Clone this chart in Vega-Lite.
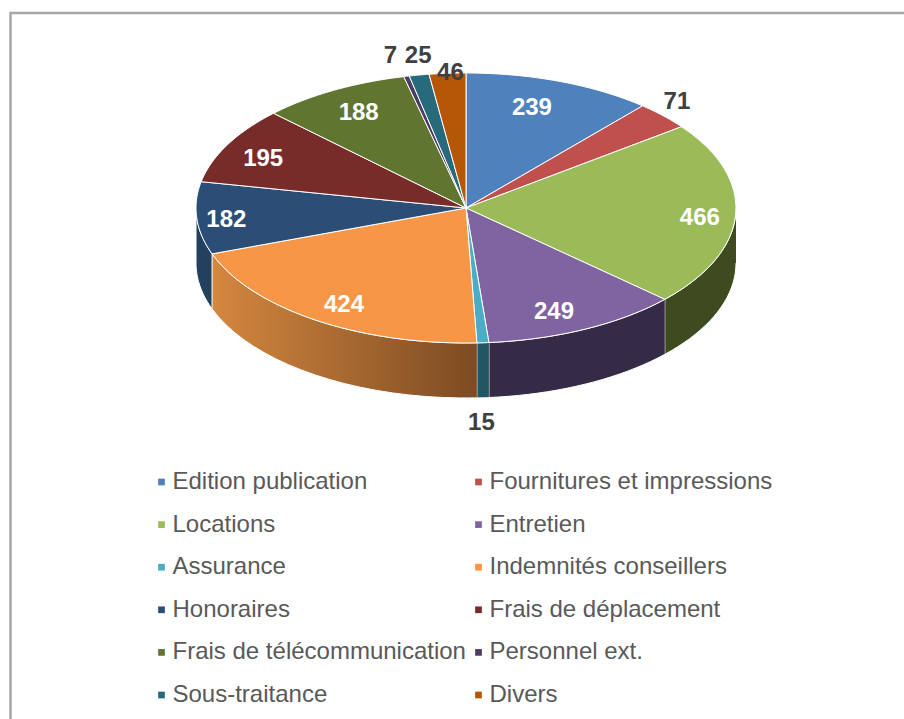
{"$schema":"https://vega.github.io/schema/vega-lite/v6.json","width":899,"height":711,"autosize":"none","padding":{"left":10.5,"top":13,"right":-5.5,"bottom":-5},"background":"#ffffff","view":{"stroke":"#a6a6a6","strokeWidth":2.5,"fill":"#ffffff"},"data":{"values":[{"rang":1,"poste":"Edition publication","valeur":239},{"rang":2,"poste":"Fournitures et impressions","valeur":71},{"rang":3,"poste":"Locations","valeur":466},{"rang":4,"poste":"Entretien","valeur":249},{"rang":5,"poste":"Assurance","valeur":15},{"rang":6,"poste":"Indemnités conseillers","valeur":424},{"rang":7,"poste":"Honoraires","valeur":182},{"rang":8,"poste":"Frais de déplacement","valeur":195},{"rang":9,"poste":"Frais de télécommunication","valeur":188},{"rang":10,"poste":"Personnel ext.","valeur":7},{"rang":11,"poste":"Sous-traitance","valeur":25},{"rang":12,"poste":"Divers","valeur":46}]},"transform":[{"joinaggregate":[{"op":"sum","field":"valeur","as":"total"}]},{"window":[{"op":"sum","field":"valeur","as":"cum"}],"sort":[{"field":"rang","order":"ascending"}]},{"calculate":"2*PI*(datum.cum-datum.valeur)/datum.total","as":"a0"},{"calculate":"2*PI*datum.cum/datum.total","as":"a1"}],"layer":[{"transform":[{"filter":"datum.a1>PI/2 && datum.a0<3*PI/2 && datum.rang!=6"},{"calculate":"[0,1,2,3,4,5,6,7,8,9,10,11,12,13,14,15,16,17,18,19,20,21,22,23,24,25,26,27,28,29,30,31,32,33,34,35,36,37,38,39,40,41]","as":"i"},{"flatten":["i"]},{"calculate":"max(datum.a0,PI/2)+(min(datum.a1,3*PI/2)-max(datum.a0,PI/2))*(datum.i<=20?datum.i/20:(41-datum.i)/20)","as":"ang"},{"calculate":"sin(datum.ang)","as":"x"},{"calculate":"cos(datum.ang)-(datum.i<=20?0:0.4074)","as":"y"}],"mark":{"type":"line","stroke":"#ffffff","strokeWidth":1,"interpolate":"linear"},"encoding":{"x":{"field":"x","type":"quantitative","axis":null,"scale":{"domain":[-1.68704,1.64259],"nice":false,"zero":false}},"y":{"field":"y","type":"quantitative","axis":null,"scale":{"domain":[-3.82222,1.44444],"nice":false,"zero":false}},"order":{"field":"i","type":"quantitative"},"detail":{"field":"poste"},"fill":{"field":"poste","type":"nominal","legend":null,"scale":{"domain":["Locations","Entretien","Assurance","Honoraires"],"range":["#3e4a20","#362b47","#235663","#24405f"]}}}},{"transform":[{"filter":"datum.rang==6"},{"calculate":"[0,1,2,3,4,5,6,7,8,9,10,11,12,13,14,15,16,17,18,19,20,21,22,23,24,25,26,27,28,29,30,31,32,33,34,35,36,37,38,39,40,41]","as":"i"},{"flatten":["i"]},{"calculate":"datum.a0+(datum.a1-datum.a0)*(datum.i<=20?datum.i/20:(41-datum.i)/20)","as":"ang"},{"calculate":"sin(datum.ang)","as":"x"},{"calculate":"cos(datum.ang)-(datum.i<=20?0:0.4074)","as":"y"}],"mark":{"type":"line","stroke":"#ffffff","strokeWidth":1,"fill":{"gradient":"linear","x1":0,"y1":0,"x2":1,"y2":0,"stops":[{"offset":0,"color":"#d4873f"},{"offset":1,"color":"#7c4b22"}]}},"encoding":{"x":{"field":"x","type":"quantitative","axis":null},"y":{"field":"y","type":"quantitative","axis":null},"order":{"field":"i","type":"quantitative"}}},{"transform":[{"calculate":"[0,1,2,3,4,5,6,7,8,9,10,11,12,13,14,15,16,17,18,19,20,21,22,23,24,25,26]","as":"i"},{"flatten":["i"]},{"calculate":"datum.a0+(datum.a1-datum.a0)*(datum.i-1)/24","as":"ang"},{"calculate":"(datum.i==0||datum.i==26)?0:sin(datum.ang)","as":"x"},{"calculate":"(datum.i==0||datum.i==26)?0:cos(datum.ang)","as":"y"}],"mark":{"type":"line","stroke":"#ffffff","strokeWidth":1},"encoding":{"x":{"field":"x","type":"quantitative","axis":null},"y":{"field":"y","type":"quantitative","axis":null},"order":{"field":"i","type":"quantitative"},"detail":{"field":"poste"},"fill":{"field":"poste","type":"nominal","scale":{"domain":["Edition publication","Fournitures et impressions","Locations","Entretien","Assurance","Indemnités conseillers","Honoraires","Frais de déplacement","Frais de télécommunication","Personnel ext.","Sous-traitance","Divers"],"range":["#4f81bd","#c0504d","#9bbb59","#8064a2","#4bacc6","#f79646","#2c4d75","#772c2a","#5f7530","#4d3b62","#276a7c","#b65708"]},"legend":{"title":null,"orient":"none","legendX":139,"legendY":457,"direction":"horizontal","columns":2,"columnPadding":0,"rowPadding":18.6,"symbolType":"square","symbolSize":45,"symbolStrokeWidth":0,"labelFont":"Liberation Sans","labelFontSize":24,"labelColor":"#595959","labelLimit":400,"labelOffset":-1,"labelBaseline":"middle"}}}},{"transform":[{"calculate":"[[0.70,0.80],[1.07,1.16],[0.867,1.42],[0.74,0.85],[0.91,1.59],[0.81,0.86],[0.89,1.05],[0.85,0.79],[0.81,0.82],[1.27,1.16],[1.02,1.15],[0.84,1.01]][datum.rang-1]","as":"k"},{"calculate":"(datum.a0+datum.a1)/2","as":"mid"},{"calculate":"sin(datum.mid)*datum.k[0]","as":"lx"},{"calculate":"cos(datum.mid)*datum.k[1]","as":"ly"}],"mark":{"type":"text","font":"Liberation Sans","fontWeight":"bold","fontSize":24,"align":"center","baseline":"middle","dy":1},"encoding":{"x":{"field":"lx","type":"quantitative","axis":null},"y":{"field":"ly","type":"quantitative","axis":null},"text":{"field":"valeur","type":"quantitative"},"color":{"condition":{"test":"datum.rang==2||datum.rang==5||datum.rang==10||datum.rang==11||datum.rang==12","value":"#404040"},"value":"#ffffff"}}}],"resolve":{"scale":{"fill":"independent"}}}
